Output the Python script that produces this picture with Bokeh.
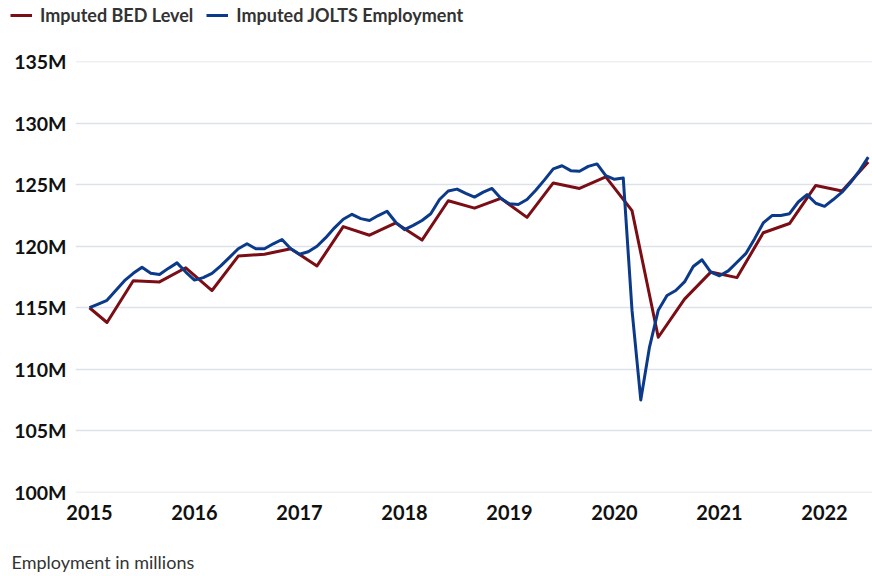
import pandas as pd
from bokeh.plotting import figure
from bokeh.layouts import column
from bokeh.models import (ColumnDataSource, FixedTicker, Legend, LegendItem,
                          Range1d, Label)
from bokeh.embed import file_html
from bokeh.resources import INLINE

# ---------------- data ----------------
jolts_start = "2015-01"
jolts_values = [
    115.0, 115.3, 115.6, 116.4, 117.2, 117.8, 118.3, 117.8, 117.7, 118.2, 118.65, 117.9,
    117.25, 117.45, 117.8, 118.4, 119.1, 119.8, 120.2, 119.8, 119.8, 120.2, 120.55, 119.8,
    119.35, 119.55, 120.0, 120.7, 121.5, 122.2, 122.6, 122.25, 122.1, 122.5, 122.85, 121.95,
    121.35, 121.7, 122.1, 122.65, 123.8, 124.5, 124.65, 124.3, 124.0, 124.4, 124.7, 123.9,
    123.45, 123.4, 123.8, 124.55, 125.4, 126.3, 126.55, 126.15, 126.1, 126.5, 126.7, 125.75,
    125.45, 125.55, 114.8, 107.5, 111.8, 114.8, 116.0, 116.4, 117.1, 118.35, 118.9, 117.9,
    117.6, 118.0, 118.7, 119.4, 120.6, 121.9, 122.5, 122.5, 122.65, 123.6, 124.2, 123.5,
    123.25, 123.8, 124.4, 125.2, 126.15, 127.25,
]
bed_dates = [
    "2015-01", "2015-03", "2015-06", "2015-09", "2015-12",
    "2016-03", "2016-06", "2016-09", "2016-12",
    "2017-03", "2017-06", "2017-09", "2017-12",
    "2018-03", "2018-06", "2018-09", "2018-12",
    "2019-03", "2019-06", "2019-09", "2019-12",
    "2020-03", "2020-06", "2020-09", "2020-12",
    "2021-03", "2021-06", "2021-09", "2021-12",
    "2022-03", "2022-06",
]
bed_values = [
    115.0, 113.8, 117.2, 117.1, 118.25,
    116.4, 119.2, 119.35, 119.8,
    118.4, 121.6, 120.9, 121.9,
    120.5, 123.7, 123.1, 123.9,
    122.35, 125.15, 124.7, 125.65,
    122.9, 112.6, 115.7, 117.9,
    117.45, 121.1, 121.85, 124.95,
    124.5, 126.85,
]
x_ticks = [2015, 2016, 2017, 2018, 2019, 2020, 2021, 2022]
x_tick_labels = ["2015", "2016", "2017", "2018", "2019", "2020", "2021", "2022"]
y_ticks = [100, 105, 110, 115, 120, 125, 130, 135]
y_tick_labels = ["100M", "105M", "110M", "115M", "120M", "125M", "130M", "135M"]
series_names = ["Imputed BED Level", "Imputed JOLTS Employment"]
footnote = "Employment in millions"


def frac_year(ts):
    return ts.year + (ts.month - 1) / 12.0


jolts_x = [frac_year(t) for t in pd.date_range(jolts_start, periods=len(jolts_values), freq="MS")]
bed_x = [frac_year(pd.Timestamp(d)) for d in bed_dates]

src_jolts = ColumnDataSource(dict(x=jolts_x, y=jolts_values))
src_bed = ColumnDataSource(dict(x=bed_x, y=bed_values))

# ---------------- styles ----------------
FONT = "Lato"
RED = "#7b0d14"
BLUE = "#0b3a8a"
W = 872
LEG_H = 40
FOOT_H = 46
MAIN_H = 576 - LEG_H - FOOT_H


def strip(height):
    f = figure(width=W, height=height, output_backend="svg", toolbar_location=None,
               title=None, x_axis_type=None, y_axis_type=None,
               x_range=Range1d(0, 1), y_range=Range1d(0, 1),
               min_border=0, min_border_left=0, min_border_right=0,
               min_border_top=0, min_border_bottom=0)
    f.frame_align = False
    f.outline_line_color = None
    f.xgrid.visible = False
    f.ygrid.visible = False
    return f


# ---------------- legend strip ----------------
# The same series are attached here only so the legend has its swatches;
# the ranges keep them out of view in this strip.
leg = strip(LEG_H)
lr_bed = leg.line("x", "y", source=src_bed, line_color=RED, line_width=3)
lr_jolts = leg.line("x", "y", source=src_jolts, line_color=BLUE, line_width=3)
legend = Legend(items=[LegendItem(label=series_names[0], renderers=[lr_bed]),
                       LegendItem(label=series_names[1], renderers=[lr_jolts])],
                orientation="horizontal", location=(10, 14),
                label_text_font=FONT, label_text_font_style="bold",
                label_text_font_size="18px", label_text_color="#333333",
                glyph_width=22, glyph_height=20, label_height=20,
                label_standoff=8, spacing=13, padding=0, margin=0,
                background_fill_alpha=0, border_line_color=None)
leg.add_layout(legend, "center")

# ---------------- main chart ----------------
p = figure(width=W, height=MAIN_H, output_backend="svg", toolbar_location=None,
           title=None,
           x_range=Range1d(2014.8667, 2022.457), y_range=Range1d(99.97, 135.03),
           min_border_left=75, min_border_right=0, min_border_top=61 - LEG_H,
           min_border_bottom=MAIN_H - (492 - LEG_H))
p.frame_align = False
p.outline_line_color = None
p.background_fill_color = "white"
p.border_fill_color = "white"

p.line("x", "y", source=src_bed, line_color=RED, line_width=3, line_join="round")
p.line("x", "y", source=src_jolts, line_color=BLUE, line_width=3, line_join="round")

p.xgrid.grid_line_color = None
p.ygrid.grid_line_color = "#dce2e8"
p.ygrid.grid_line_width = 1.5

p.xaxis.ticker = FixedTicker(ticks=x_ticks)
p.xaxis.major_label_overrides = {t: l for t, l in zip(x_ticks, x_tick_labels)}
p.yaxis.ticker = FixedTicker(ticks=y_ticks)
p.yaxis.major_label_overrides = {t: l for t, l in zip(y_ticks, y_tick_labels)}
for ax in (p.xaxis[0], p.yaxis[0]):
    ax.axis_line_color = None
    ax.major_tick_line_color = None
    ax.minor_tick_line_color = None
    ax.major_tick_out = 0
    ax.major_tick_in = 0
    ax.major_label_text_font = FONT
    ax.major_label_text_font_style = "bold"
    ax.major_label_text_color = "#111111"
p.xaxis.major_label_text_font_size = "20px"
p.yaxis.major_label_text_font_size = "19.5px"
p.yaxis.major_label_standoff = 9
p.xaxis.major_label_standoff = 12

# ---------------- footnote strip ----------------
foot = strip(FOOT_H)
foot.add_layout(Label(x=0, y=0.5, x_offset=11, y_offset=-8, text=footnote,
                      text_font=FONT, text_font_size="18px",
                      text_color="#333333", text_baseline="middle"))

layout = column(leg, p, foot, spacing=0)
open("out.html", "w").write(file_html(layout, INLINE))
